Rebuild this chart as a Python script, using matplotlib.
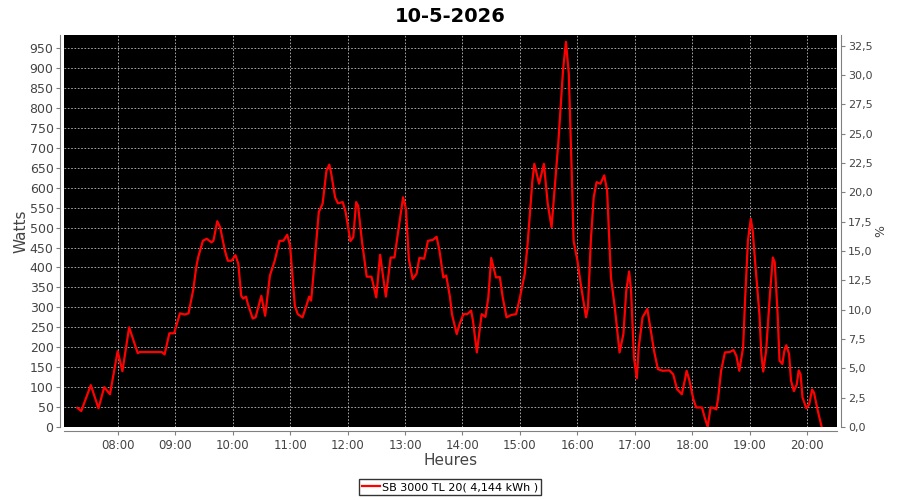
import numpy as np
import pandas as pd
import matplotlib
matplotlib.use("Agg")
from matplotlib import pyplot as plt
import matplotlib.dates as mdates
from matplotlib.ticker import FuncFormatter, MultipleLocator

day = "2026-05-10"
title = "10-5-2026"
serie_label = "SB 3000 TL 20( 4,144 kWh )"

heures = ["07:18", "07:22", "07:32", "07:40", "07:46", "07:52", "08:00", "08:05", "08:12", "08:21",
          "08:23", "08:34", "08:46", "08:49", "08:54", "08:59", "09:05", "09:10", "09:14", "09:19",
          "09:22", "09:24", "09:29", "09:33", "09:38", "09:40", "09:44", "09:47", "09:52", "09:55",
          "09:59", "10:03", "10:06", "10:09", "10:11", "10:14", "10:16", "10:21", "10:24", "10:30",
          "10:34", "10:39", "10:44", "10:49", "10:53", "10:57", "11:00", "11:05", "11:08", "11:13",
          "11:17", "11:20", "11:22", "11:26", "11:30", "11:34", "11:38", "11:41", "11:43", "11:47",
          "11:50", "11:55", "11:58", "12:03", "12:06", "12:09", "12:11", "12:15", "12:20", "12:25",
          "12:30", "12:34", "12:37", "12:40", "12:45", "12:49", "12:53", "12:58", "13:01", "13:04",
          "13:08", "13:12", "13:15", "13:20", "13:24", "13:29", "13:33", "13:36", "13:40", "13:43",
          "13:47", "13:49", "13:54", "13:57", "14:01", "14:05", "14:09", "14:11", "14:15", "14:20",
          "14:24", "14:27", "14:30", "14:35", "14:39", "14:42", "14:46", "14:51", "14:56", "15:00",
          "15:05", "15:08", "15:13", "15:15", "15:20", "15:25", "15:29", "15:33", "15:40", "15:45",
          "15:48", "15:51", "15:54", "15:56", "16:00", "16:04", "16:09", "16:11", "16:14", "16:17",
          "16:20", "16:24", "16:28", "16:31", "16:35", "16:39", "16:44", "16:48", "16:51", "16:54",
          "16:56", "16:59", "17:02", "17:04", "17:08", "17:13", "17:15", "17:20", "17:24", "17:29",
          "17:36", "17:40", "17:44", "17:49", "17:52", "17:54", "17:57", "18:01", "18:04", "18:10",
          "18:13", "18:16", "18:19", "18:22", "18:25", "18:27", "18:30", "18:34", "18:39", "18:43",
          "18:46", "18:49", "18:53", "18:55", "18:58", "19:01", "19:03", "19:06", "19:10", "19:12",
          "19:14", "19:17", "19:21", "19:24", "19:26", "19:29", "19:31", "19:34", "19:36", "19:38",
          "19:41", "19:43", "19:46", "19:49", "19:51", "19:53", "19:55", "19:59", "20:02", "20:05",
          "20:07", "20:11", "20:15"]

watts = [48, 40, 105, 47, 100, 82, 190, 140, 250, 185,
         188, 188, 188, 182, 235, 235, 285, 282, 285, 345,
         400, 425, 467, 472, 463, 467, 516, 501, 442, 417,
         417, 431, 409, 329, 322, 327, 308, 272, 275, 329,
         279, 380, 417, 467, 467, 482, 455, 304, 283, 275,
         304, 327, 317, 425, 539, 560, 643, 658, 635, 576,
         561, 564, 539, 466, 476, 564, 555, 467, 377, 377,
         325, 432, 380, 327, 425, 425, 492, 576, 547, 421,
         371, 384, 424, 422, 467, 469, 477, 442, 375, 380,
         325, 283, 233, 258, 283, 283, 292, 266, 187, 283,
         276, 325, 424, 375, 376, 325, 275, 281, 283, 325,
         384, 459, 618, 660, 610, 660, 560, 501, 711, 895,
         966, 886, 643, 467, 417, 350, 275, 300, 467, 576,
         614, 610, 631, 593, 375, 300, 187, 233, 342, 390,
         342, 174, 122, 200, 275, 296, 266, 191, 145, 141,
         142, 132, 95, 82, 116, 141, 116, 70, 49, 49,
         23, 0, 49, 48, 44, 74, 141, 187, 188, 193,
         178, 141, 200, 317, 467, 522, 492, 400, 283, 183,
         139, 191, 333, 425, 413, 283, 166, 158, 191, 205,
         183, 116, 90, 107, 142, 132, 74, 47, 57, 94,
         86, 40, 0]

t = pd.to_datetime([day + " " + h for h in heures])

fig = plt.figure(figsize=(9, 5), dpi=100)
ax = fig.add_axes([64 / 900, 1 - 427 / 500, (837 - 64) / 900, (427 - 35) / 500])
ax.set_facecolor("black")

ax.plot(t, watts, color="#ff0000", linewidth=1.6, solid_joinstyle="round",
        label=serie_label)

ax.set_xlim(pd.Timestamp(day + " 07:04"), pd.Timestamp(day + " 20:31"))
ax.set_ylim(0, 983)
ax.yaxis.set_major_locator(MultipleLocator(50))
ax.xaxis.set_major_locator(mdates.HourLocator())
ax.xaxis.set_major_formatter(mdates.DateFormatter("%H:%M"))

ax.grid(True, color="#bdbdbd", linestyle=(0, (2, 2)), linewidth=0.6)

grey = "#808080"
ax.spines["top"].set_visible(False)
ax.spines["right"].set_visible(False)
for s in ["left", "bottom"]:
    ax.spines[s].set_position(("outward", 3))
    ax.spines[s].set_color(grey)
ax.tick_params(axis="y", colors=grey, labelcolor="#444444", labelsize=9, length=3, pad=1.5)
ax.tick_params(axis="x", colors=grey, labelcolor="#444444", labelsize=8.5, length=3, pad=2.5)
ax.set_ylabel("Watts", fontsize=11, color="#444444", labelpad=1)
ax.set_xlabel("Heures", fontsize=11, color="#444444", labelpad=1)

ax2 = ax.twinx()
ax2.set_ylim(0, 33.4)
ax2.yaxis.set_major_locator(MultipleLocator(2.5))
ax2.yaxis.set_major_formatter(FuncFormatter(lambda v, p: f"{v:.1f}".replace(".", ",")))
for s in ["top", "left", "bottom"]:
    ax2.spines[s].set_visible(False)
ax2.spines["right"].set_position(("outward", 3))
ax2.spines["right"].set_color(grey)
ax2.tick_params(axis="y", colors=grey, labelcolor="#444444", labelsize=8, length=3, pad=2)
ax2.set_ylabel("%", fontsize=9, color="#444444", labelpad=1)

fig.suptitle(title, x=0.5, y=0.985, fontsize=14, fontweight="bold", va="top")

leg = fig.legend(loc="center", bbox_to_anchor=(0.5, 1 - 487 / 500), fontsize=8,
                 frameon=True, fancybox=False, handlelength=1.6, handletextpad=0.2,
                 borderpad=0.3, borderaxespad=0)
leg.get_frame().set_edgecolor("black")
leg.get_frame().set_linewidth(1)

plt.savefig("out.png", dpi=100)
